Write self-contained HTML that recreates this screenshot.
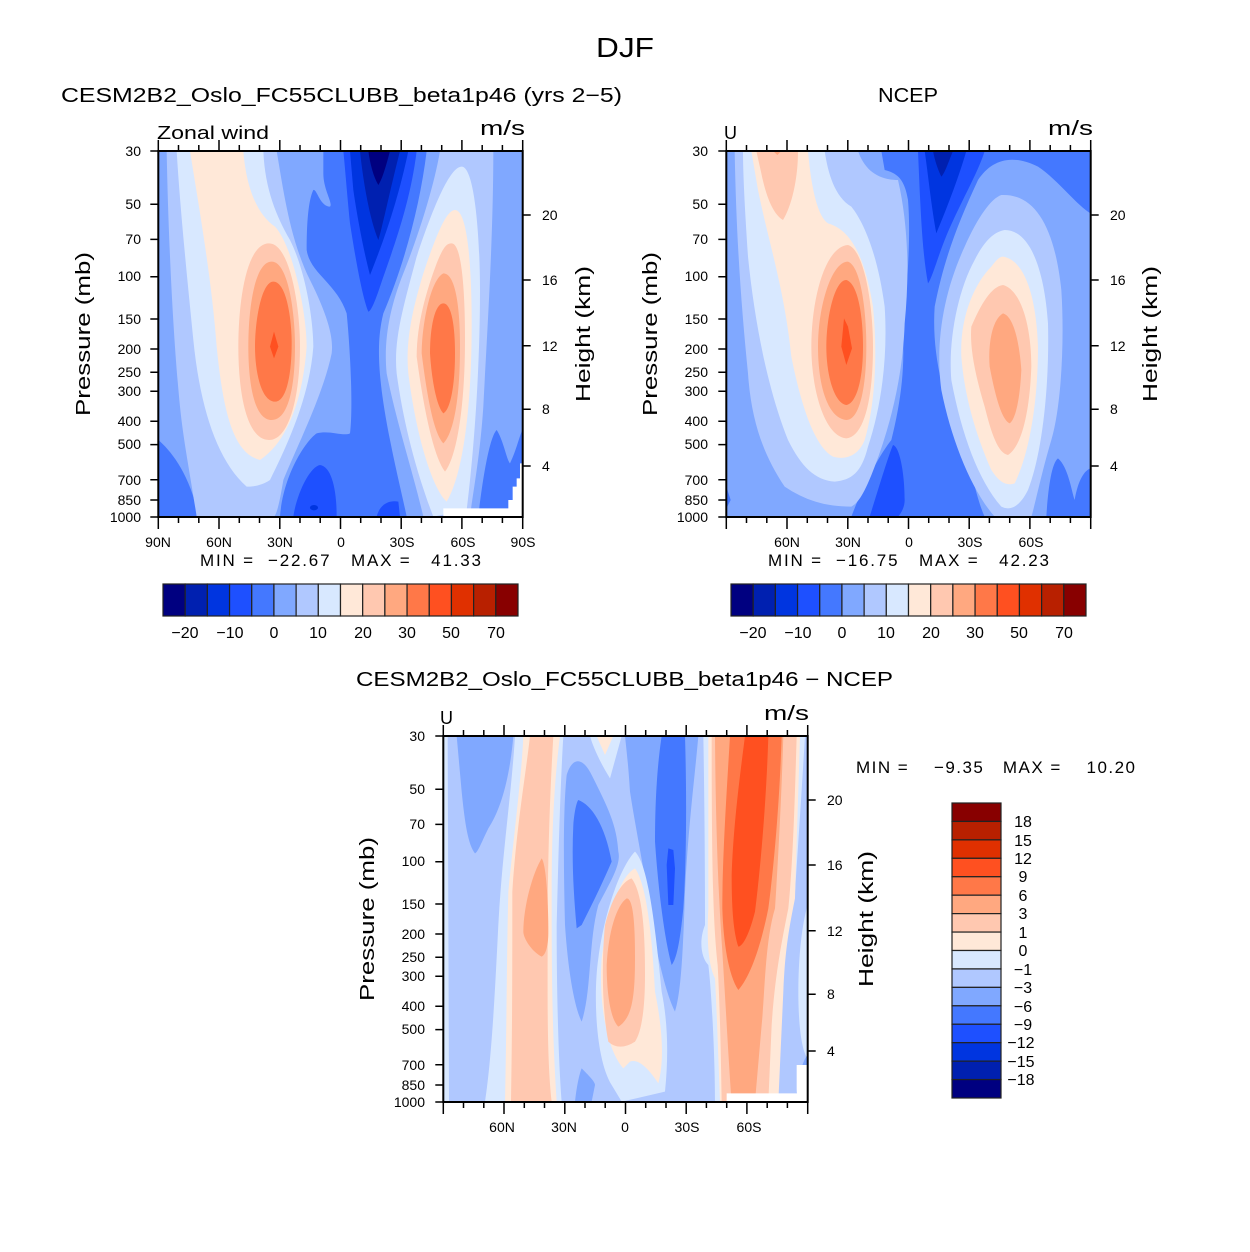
<!DOCTYPE html>
<html><head><meta charset="utf-8"><style>
html,body{margin:0;padding:0;background:#fff}
svg{display:block}
text{font-family:"Liberation Sans",sans-serif;fill:#000}
</style></head><body>
<svg width="1250" height="1252" viewBox="0 0 1250 1252" xmlns="http://www.w3.org/2000/svg">
<defs>
<clipPath id="cz"><rect x="25" y="33" width="1093" height="1097"/></clipPath>
</defs>
<rect width="1250" height="1252" fill="#fff"/>

<!-- PANEL 1 -->
<g transform="translate(150,140) scale(0.33333)" clip-path="url(#cz)">
<rect x="25" y="33" width="1093" height="1097" fill="#80a8ff"/>
<path fill="#4478ff" d="M25,900 C60,930 120,1000 145,1130 L25,1130Z"/>
<path fill="#b0c8ff" d="M50,33 L380,33 C400,150 420,300 480,420 C540,540 550,600 545,640 C520,760 450,900 400,1020 C390,1080 380,1130 370,1130 L140,1130 C120,1000 100,900 90,800 C70,600 55,300 50,33Z"/>
<path fill="#d8e8ff" d="M80,33 L340,33 C345,150 380,230 420,300 C470,400 490,550 490,620 C480,760 420,900 360,1020 C330,1040 300,1040 290,1040 C200,960 150,800 130,600 C110,400 90,200 80,33Z"/>
<path fill="#ffe8d8" d="M120,33 L280,33 C290,160 330,230 375,260 C430,320 470,520 470,620 C460,760 420,900 330,960 C250,940 220,820 200,620 C185,420 150,220 120,33Z"/>
<path fill="#ffc8b0" d="M357,310 C420,310 450,500 450,620 C450,760 420,900 357,900 C290,900 265,760 265,620 C265,480 290,310 357,310Z"/>
<path fill="#ffa880" d="M365,365 C415,365 435,520 435,620 C435,740 415,840 365,840 C315,840 295,740 295,620 C295,500 315,365 365,365Z"/>
<path fill="#ff7848" d="M370,425 C410,425 425,540 425,610 C425,700 410,785 375,785 C335,785 315,700 315,620 C315,540 335,425 370,425Z"/>
<path fill="#ff5020" d="M372,575 L385,620 L372,655 L360,620Z"/>
<path fill="#4478ff" d="M520,33 L830,33 C810,200 760,380 700,520 C680,600 680,700 720,900 C740,1000 760,1080 770,1130 L390,1130 C400,1000 470,900 500,880 C540,870 580,890 600,880 C610,800 600,620 590,520 C560,430 480,400 470,330 C470,250 475,180 490,150 C500,145 510,200 540,200 C550,190 520,150 520,100Z"/>
<path fill="#4478ff" d="M985,1130 C1000,1000 1020,890 1040,870 C1060,900 1070,960 1080,970 C1100,930 1110,880 1118,870 L1118,1130Z"/>
<path fill="#1e50ff" d="M580,33 L800,33 C780,200 720,350 690,440 C670,500 660,515 655,515 C640,480 620,380 600,250 C590,150 585,80 580,33Z"/>
<path fill="#0035e0" d="M600,33 L775,33 C740,200 690,330 660,405 C640,330 620,220 610,150Z"/>
<path fill="#0020b0" d="M630,33 L750,33 C720,150 700,250 685,300 C660,240 640,130 630,33Z"/>
<path fill="#000080" d="M655,33 L720,33 C705,90 695,120 685,135 C670,110 660,70 655,33Z"/>
<path fill="#1e50ff" d="M430,1130 C440,1060 480,980 510,975 C545,980 560,1050 560,1130Z"/>
<path fill="#1e50ff" d="M680,1130 C690,1090 720,1080 745,1085 L750,1130Z"/>
<ellipse fill="#0035e0" cx="492" cy="1103" rx="12" ry="8"/>
<path fill="#b0c8ff" d="M870,33 L1030,33 C1030,300 1010,600 1000,800 C990,950 970,1050 960,1130 L820,1130 C790,1000 740,850 710,700 C700,600 720,500 760,400 C800,300 850,150 870,33Z"/>
<path fill="#d8e8ff" d="M935,80 C975,80 990,300 990,450 C990,700 970,950 950,1110 L850,1130 C800,1000 760,850 740,700 C730,600 760,500 800,350 C850,200 900,80 935,80Z"/>
<path fill="#ffe8d8" d="M915,210 C955,210 965,400 965,550 C965,800 940,1000 890,1085 C850,1050 800,900 775,700 C765,600 790,500 820,400 C860,280 890,210 915,210Z"/>
<path fill="#ffc8b0" d="M905,310 C935,310 945,450 945,600 C945,800 920,950 885,995 C850,950 820,800 800,650 C800,550 830,450 860,370 C880,320 890,310 905,310Z"/>
<path fill="#ffa880" d="M880,400 C920,400 930,520 930,620 C930,780 910,880 880,910 C850,880 830,760 815,640 C815,560 840,420 880,400Z"/>
<path fill="#ff7848" d="M880,490 C905,490 915,560 915,640 C915,740 900,810 880,820 C860,800 845,720 840,640 C840,560 855,490 880,490Z"/>
<path fill="#fff" d="M880,1105 L1075,1105 L1075,1080 L1088,1080 L1088,1040 L1100,1040 L1100,1015 L1110,1015 L1110,970 L1118,970 L1118,1130 L880,1130Z"/>
</g>

<!-- PANEL 2 -->
<g transform="translate(718,140) scale(0.33333)" clip-path="url(#cz)">
<rect x="25" y="33" width="1093" height="1097" fill="#80a8ff"/>
<path fill="#4478ff" d="M490,33 L1118,33 L1118,220 C1080,200 1020,120 960,80 C880,40 820,60 780,120 C720,250 680,350 650,500 C640,650 680,800 750,950 C770,1050 790,1110 800,1130 L400,1130 C430,1050 480,950 520,900 C545,800 560,700 555,600 C565,450 580,300 570,180 C560,120 540,100 500,90Z"/>
<path fill="#4478ff" d="M985,1130 C990,1050 1000,970 1020,955 C1050,980 1060,1050 1070,1080 C1080,1020 1100,990 1118,985 L1118,1130Z"/>
<path fill="#4478ff" d="M25,1040 L38,1080 L25,1105Z"/>
<path fill="#1e50ff" d="M600,33 L800,33 C780,100 720,200 680,300 C660,350 640,420 630,430 C615,350 610,250 605,150Z"/>
<path fill="#0035e0" d="M620,33 L745,33 C720,120 680,220 655,280 C640,200 630,100 620,33Z"/>
<path fill="#0020b0" d="M645,33 L705,33 C690,70 680,100 670,110 C660,90 650,60 645,33Z"/>
<path fill="#1e50ff" d="M455,1130 C480,1050 510,950 525,915 C545,920 560,1000 560,1080 C560,1110 540,1130 540,1130Z"/>
<path fill="#b0c8ff" d="M50,33 L420,33 C440,90 480,120 540,120 C570,250 575,400 560,550 C555,700 520,850 470,980 C440,1060 420,1090 400,1100 C320,1100 260,1080 200,1040 C140,950 100,850 90,700 C70,500 55,300 50,33Z"/>
<path fill="#d8e8ff" d="M75,33 L320,33 C330,100 350,170 400,200 C440,250 480,350 500,500 C510,650 490,800 450,920 C430,1000 400,1020 350,1025 C290,1020 250,980 210,900 C150,750 110,550 90,350 C80,200 75,100 75,33Z"/>
<path fill="#ffe8d8" d="M100,33 L270,33 C280,150 300,230 330,250 C400,270 440,350 465,500 C480,650 470,800 440,900 C420,950 380,960 345,950 C290,920 250,800 220,650 C200,450 150,300 120,150Z"/>
<path fill="#ffc8b0" d="M115,33 L240,33 C240,120 220,200 195,240 C160,220 140,150 130,100Z"/>
<path fill="#ffa880" d="M165,33 L190,33 L178,45Z"/>
<path fill="#ffc8b0" d="M390,315 C440,330 465,500 465,620 C465,770 440,890 385,895 C320,890 280,750 280,620 C280,480 320,320 390,315Z"/>
<path fill="#ffa880" d="M390,365 C430,380 445,520 445,620 C445,740 425,840 385,840 C330,835 300,740 300,620 C300,500 340,365 390,365Z"/>
<path fill="#ff7848" d="M385,420 C420,430 435,530 435,620 C435,720 415,790 385,795 C350,790 325,710 325,620 C325,530 350,420 385,420Z"/>
<path fill="#ff5020" d="M378,535 L390,560 L402,625 L385,675 L370,620Z"/>
<path fill="#b0c8ff" d="M850,165 C950,160 1010,260 1030,450 C1040,600 1030,800 1000,900 C970,1000 950,1100 940,1130 L830,1130 C760,1050 700,900 670,750 C650,600 680,450 740,320 C780,230 820,175 850,165Z"/>
<path fill="#d8e8ff" d="M860,270 C940,270 980,400 990,550 C995,750 970,950 930,1050 C900,1110 870,1110 850,1100 C780,1020 730,880 700,720 C690,600 720,450 770,360 C800,300 830,275 860,270Z"/>
<path fill="#ffe8d8" d="M855,350 C920,360 955,470 960,620 C960,800 930,950 890,1030 C860,1040 840,1020 820,990 C780,900 740,780 730,650 C725,530 770,430 820,380 C835,360 845,350 855,350Z"/>
<path fill="#ffc8b0" d="M855,435 C910,450 940,560 940,680 C935,820 910,920 870,945 C840,940 820,880 800,800 C770,700 755,620 760,560 C790,490 820,440 855,435Z"/>
<path fill="#ffa880" d="M855,520 C890,530 905,620 910,690 C905,790 890,840 875,850 C850,840 830,760 815,680 C810,620 820,540 855,520Z"/>
</g>

<!-- PANEL 3 -->
<g transform="translate(435,725) scale(0.33333)" clip-path="url(#cz)">
<rect x="25" y="33" width="1093" height="1097" fill="#b0c8ff"/>
<path fill="#d8e8ff" d="M25,33 L38,33 L42,1130 L25,1130Z"/>
<path fill="#80a8ff" d="M65,33 L235,33 C225,150 200,250 160,310 C140,350 130,380 120,385 C100,360 90,300 80,200Z"/>
<path fill="#d8e8ff" d="M240,33 L385,33 C375,200 370,400 365,600 C365,800 370,1000 380,1130 L150,1130 C170,1000 180,800 190,600 C200,400 230,200 240,33Z"/>
<path fill="#ffe8d8" d="M265,33 L375,33 C360,150 350,300 350,500 C350,700 350,900 365,1130 L210,1130 C215,900 215,700 220,500 C240,300 260,150 265,33Z"/>
<path fill="#ffc8b0" d="M285,33 L355,33 C345,200 338,400 338,600 C338,800 335,1000 350,1130 L228,1130 C232,900 232,700 232,500 C245,300 272,150 285,33Z"/>
<path fill="#ffa880" d="M320,400 C335,420 340,550 340,620 C340,670 330,690 320,695 C290,680 265,640 265,620 C265,550 290,450 320,400Z"/>
<path fill="#d8e8ff" d="M465,33 L560,33 L525,160 C500,120 475,70 465,33Z"/>
<path fill="#ffe8d8" d="M485,33 L535,33 L510,90Z"/>
<path fill="#80a8ff" d="M395,150 C410,100 440,90 470,150 C520,250 545,300 550,380 C560,420 520,480 490,540 C460,650 470,800 440,890 C420,850 400,750 390,600 C385,400 385,250 395,150Z"/>
<path fill="#4478ff" d="M430,225 C470,240 510,300 530,410 C500,480 470,540 440,600 L425,610 C415,500 410,400 415,300 C418,260 425,230 430,225Z"/>
<path fill="#80a8ff" d="M570,33 L790,33 C780,150 760,300 750,500 C745,650 740,800 720,860 C700,820 680,750 660,650 C640,500 600,300 585,200 C580,120 575,80 570,33Z"/>
<path fill="#4478ff" d="M680,33 L750,33 C755,200 755,400 745,550 C735,650 725,700 710,720 C690,650 670,500 660,350 C660,200 670,100 680,33Z"/>
<path fill="#1e50ff" d="M700,370 L715,375 L720,430 L715,540 L700,540 L695,420Z"/>
<path fill="#80a8ff" d="M420,1130 C425,1080 435,1040 440,1030 C460,1050 480,1070 480,1080 L470,1130Z"/>
<path fill="#d8e8ff" d="M600,380 C640,420 660,600 680,800 C700,900 700,1000 690,1100 L560,1130 L530,1080 C480,1000 475,800 490,700 C510,550 560,420 600,380Z"/>
<path fill="#ffe8d8" d="M600,430 C630,470 650,600 660,800 C680,900 690,1000 670,1075 C640,1030 610,1000 585,1010 L565,1030 C520,980 490,850 500,700 C520,550 560,450 600,430Z"/>
<path fill="#ffc8b0" d="M590,460 C620,500 630,600 630,750 C630,850 620,920 600,950 C570,970 540,970 520,950 C500,850 500,700 510,600 C530,520 560,470 590,460Z"/>
<path fill="#ffa880" d="M575,520 C595,520 600,600 600,700 C600,820 590,880 550,905 C525,880 515,800 515,720 C520,620 545,540 575,520Z"/>
<path fill="#d8e8ff" d="M805,33 L1110,33 C1100,200 1090,350 1080,500 L1050,620 C1030,650 1020,700 1010,800 L990,1130 L840,1130 C840,1000 830,800 820,720 C800,700 790,650 810,600 C810,400 808,200 805,33Z"/>
<path fill="#ffe8d8" d="M820,33 L1095,33 C1090,200 1085,350 1080,520 C1060,620 1050,680 1045,800 L1030,1130 L855,1130 C850,1000 845,850 840,760 C820,720 815,650 820,550Z"/>
<path fill="#ffc8b0" d="M830,33 L1085,33 C1080,200 1075,400 1060,550 C1040,650 1020,750 1010,900 L1000,1130 L860,1130 C858,1000 855,850 848,720 C835,600 830,450 830,33Z"/>
<path fill="#ffa880" d="M840,33 L1045,33 C1040,200 1030,400 1020,550 C990,650 990,800 980,900 L960,1130 L890,1130 C880,1000 870,800 860,650 C850,500 842,300 840,33Z"/>
<path fill="#ff7848" d="M885,33 L1040,33 C1035,200 1020,400 1000,550 C980,650 950,750 910,795 C880,750 865,650 862,550 C862,400 875,200 885,33Z"/>
<path fill="#ff5020" d="M930,33 L1000,33 C995,200 980,400 960,560 C940,640 920,665 910,665 C895,620 890,550 890,450 C895,300 915,150 930,33Z"/>
<path fill="#b0c8ff" d="M1118,380 L1118,1130 L1080,1130 C1085,950 1090,800 1080,700 C1090,600 1100,500 1118,380Z"/>
<path fill="#d8e8ff" d="M1118,540 L1118,1000 C1100,980 1090,900 1090,800 C1090,700 1100,600 1118,540Z"/>
<path fill="#80a8ff" d="M1118,990 L1118,1130 L1080,1130 C1090,1060 1100,1010 1118,990Z"/>
<path fill="#fff" d="M875,1105 L1085,1105 L1085,1020 L1118,1020 L1118,1130 L875,1130Z"/>
</g>

<!-- frames & ticks -->
<g id="ax1" fill="none" stroke="#000" stroke-width="2">
<rect x="158.3" y="151" width="364.4" height="366"/>
<path stroke-width="1.5" d="M158.3,151v-11M178.5,151v-6M198.8,151v-6M219,151v-11M239.3,151v-6M259.5,151v-6M279.8,151v-11M300,151v-6M320.2,151v-6M340.5,151v-11M360.7,151v-6M381,151v-6M401.2,151v-11M421.4,151v-6M441.7,151v-6M461.9,151v-11M482.2,151v-6M502.4,151v-6M522.7,151v-11
M158.3,517v12M178.5,517v6M198.8,517v6M219,517v12M239.3,517v6M259.5,517v6M279.8,517v12M300,517v6M320.2,517v6M340.5,517v12M360.7,517v6M381,517v6M401.2,517v12M421.4,517v6M441.7,517v6M461.9,517v12M482.2,517v6M502.4,517v6M522.7,517v12
M158.3,151h-8M158.3,204.3h-8M158.3,239.4h-8M158.3,276.7h-8M158.3,319h-8M158.3,349h-8M158.3,372.3h-8M158.3,391.3h-8M158.3,421.3h-8M158.3,444.6h-8M158.3,479.8h-8M158.3,500h-8M158.3,517h-8
M522.7,215h8M522.7,280h8M522.7,345.7h8M522.7,409.3h8M522.7,466h8"/>
</g>
<use href="#ax1" x="568" y="0"/>
<use href="#ax1" x="285" y="585"/>

<!-- titles -->
<text x="625" y="57" font-size="28" text-anchor="middle" textLength="58" lengthAdjust="spacingAndGlyphs">DJF</text>
<text x="61" y="102" font-size="20" textLength="561" lengthAdjust="spacingAndGlyphs">CESM2B2_Oslo_FC55CLUBB_beta1p46 (yrs 2−5)</text>
<text x="908" y="102" font-size="20" text-anchor="middle" textLength="60" lengthAdjust="spacingAndGlyphs">NCEP</text>
<text x="356" y="686" font-size="20" textLength="537" lengthAdjust="spacingAndGlyphs">CESM2B2_Oslo_FC55CLUBB_beta1p46 − NCEP</text>

<text x="157" y="139" font-size="18" textLength="112" lengthAdjust="spacingAndGlyphs">Zonal wind</text>
<text x="480" y="135" font-size="20" textLength="45" lengthAdjust="spacingAndGlyphs">m/s</text>
<text x="724" y="139" font-size="18">U</text>
<text x="1048" y="135" font-size="20" textLength="45" lengthAdjust="spacingAndGlyphs">m/s</text>
<text x="440" y="724" font-size="18">U</text>
<text x="764" y="720" font-size="20" textLength="45" lengthAdjust="spacingAndGlyphs">m/s</text>

<!-- axis titles -->
<text transform="translate(90,334) rotate(-90)" font-size="20" text-anchor="middle" textLength="164" lengthAdjust="spacingAndGlyphs">Pressure (mb)</text>
<text transform="translate(657,334) rotate(-90)" font-size="20" text-anchor="middle" textLength="164" lengthAdjust="spacingAndGlyphs">Pressure (mb)</text>
<text transform="translate(374,919) rotate(-90)" font-size="20" text-anchor="middle" textLength="164" lengthAdjust="spacingAndGlyphs">Pressure (mb)</text>
<text transform="translate(590,334) rotate(-90)" font-size="20" text-anchor="middle" textLength="136" lengthAdjust="spacingAndGlyphs">Height (km)</text>
<text transform="translate(1157,334) rotate(-90)" font-size="20" text-anchor="middle" textLength="136" lengthAdjust="spacingAndGlyphs">Height (km)</text>
<text transform="translate(873,919) rotate(-90)" font-size="20" text-anchor="middle" textLength="136" lengthAdjust="spacingAndGlyphs">Height (km)</text>

<!-- y tick labels -->
<g font-size="14" text-anchor="end">
<text x="141" y="156">30</text><text x="141" y="209">50</text><text x="141" y="244">70</text><text x="141" y="281">100</text><text x="141" y="324">150</text><text x="141" y="354">200</text><text x="141" y="377">250</text><text x="141" y="396">300</text><text x="141" y="426">400</text><text x="141" y="449">500</text><text x="141" y="485">700</text><text x="141" y="505">850</text><text x="141" y="522">1000</text>
<text x="708" y="156">30</text><text x="708" y="209">50</text><text x="708" y="244">70</text><text x="708" y="281">100</text><text x="708" y="324">150</text><text x="708" y="354">200</text><text x="708" y="377">250</text><text x="708" y="396">300</text><text x="708" y="426">400</text><text x="708" y="449">500</text><text x="708" y="485">700</text><text x="708" y="505">850</text><text x="708" y="522">1000</text>
<text x="425" y="741">30</text><text x="425" y="794">50</text><text x="425" y="829">70</text><text x="425" y="866">100</text><text x="425" y="909">150</text><text x="425" y="939">200</text><text x="425" y="962">250</text><text x="425" y="981">300</text><text x="425" y="1011">400</text><text x="425" y="1034">500</text><text x="425" y="1070">700</text><text x="425" y="1090">850</text><text x="425" y="1107">1000</text>
</g>
<g font-size="14">
<text x="542" y="220">20</text><text x="542" y="285">16</text><text x="542" y="351">12</text><text x="542" y="414">8</text><text x="542" y="471">4</text>
<text x="1110" y="220">20</text><text x="1110" y="285">16</text><text x="1110" y="351">12</text><text x="1110" y="414">8</text><text x="1110" y="471">4</text>
<text x="827" y="805">20</text><text x="827" y="870">16</text><text x="827" y="936">12</text><text x="827" y="999">8</text><text x="827" y="1056">4</text>
</g>
<!-- x tick labels -->
<g font-size="14" text-anchor="middle">
<text x="158" y="547">90N</text><text x="219" y="547">60N</text><text x="280" y="547">30N</text><text x="341" y="547">0</text><text x="402" y="547">30S</text><text x="463" y="547">60S</text><text x="523" y="547">90S</text>
<text x="787" y="547">60N</text><text x="848" y="547">30N</text><text x="909" y="547">0</text><text x="970" y="547">30S</text><text x="1031" y="547">60S</text>
<text x="502" y="1132">60N</text><text x="564" y="1132">30N</text><text x="625" y="1132">0</text><text x="687" y="1132">30S</text><text x="749" y="1132">60S</text>
</g>
<!-- min/max -->
<text x="200" y="566" font-size="17" textLength="281" lengthAdjust="spacing" xml:space="preserve">MIN =  −22.67   MAX =   41.33</text>
<text x="768" y="566" font-size="17" textLength="281" lengthAdjust="spacing" xml:space="preserve">MIN =  −16.75   MAX =   42.23</text>
<text x="856" y="773" font-size="17" textLength="279" lengthAdjust="spacing" xml:space="preserve">MIN =    −9.35   MAX =    10.20</text>

<!-- colorbar 1 -->
<g id="cb1" stroke="#222" stroke-width="1.2">
<rect x="163" y="584" width="22.19" height="32" fill="#000080"/>
<rect x="185.19" y="584" width="22.19" height="32" fill="#0020b0"/>
<rect x="207.38" y="584" width="22.19" height="32" fill="#0035e0"/>
<rect x="229.56" y="584" width="22.19" height="32" fill="#1e50ff"/>
<rect x="251.75" y="584" width="22.19" height="32" fill="#4478ff"/>
<rect x="273.94" y="584" width="22.19" height="32" fill="#80a8ff"/>
<rect x="296.13" y="584" width="22.19" height="32" fill="#b0c8ff"/>
<rect x="318.31" y="584" width="22.19" height="32" fill="#d8e8ff"/>
<rect x="340.5" y="584" width="22.19" height="32" fill="#ffe8d8"/>
<rect x="362.69" y="584" width="22.19" height="32" fill="#ffc8b0"/>
<rect x="384.88" y="584" width="22.19" height="32" fill="#ffa880"/>
<rect x="407.06" y="584" width="22.19" height="32" fill="#ff7848"/>
<rect x="429.25" y="584" width="22.19" height="32" fill="#ff5020"/>
<rect x="451.44" y="584" width="22.19" height="32" fill="#e03000"/>
<rect x="473.63" y="584" width="22.19" height="32" fill="#b82000"/>
<rect x="495.81" y="584" width="22.19" height="32" fill="#880000"/>
</g>
<use href="#cb1" x="568" y="0"/>
<g font-size="16" text-anchor="middle">
<text x="185" y="638">−20</text><text x="230" y="638">−10</text><text x="274" y="638">0</text><text x="318" y="638">10</text><text x="363" y="638">20</text><text x="407" y="638">30</text><text x="451" y="638">50</text><text x="496" y="638">70</text>
<text x="753" y="638">−20</text><text x="798" y="638">−10</text><text x="842" y="638">0</text><text x="886" y="638">10</text><text x="931" y="638">20</text><text x="975" y="638">30</text><text x="1019" y="638">50</text><text x="1064" y="638">70</text>
</g>

<!-- colorbar 3 vertical -->
<g stroke="#222" stroke-width="1.2">
<rect x="952" y="803" width="49" height="18.44" fill="#880000"/>
<rect x="952" y="821.44" width="49" height="18.44" fill="#b82000"/>
<rect x="952" y="839.88" width="49" height="18.44" fill="#e03000"/>
<rect x="952" y="858.31" width="49" height="18.44" fill="#ff5020"/>
<rect x="952" y="876.75" width="49" height="18.44" fill="#ff7848"/>
<rect x="952" y="895.19" width="49" height="18.44" fill="#ffa880"/>
<rect x="952" y="913.63" width="49" height="18.44" fill="#ffc8b0"/>
<rect x="952" y="932.06" width="49" height="18.44" fill="#ffe8d8"/>
<rect x="952" y="950.5" width="49" height="18.44" fill="#d8e8ff"/>
<rect x="952" y="968.94" width="49" height="18.44" fill="#b0c8ff"/>
<rect x="952" y="987.38" width="49" height="18.44" fill="#80a8ff"/>
<rect x="952" y="1005.81" width="49" height="18.44" fill="#4478ff"/>
<rect x="952" y="1024.25" width="49" height="18.44" fill="#1e50ff"/>
<rect x="952" y="1042.69" width="49" height="18.44" fill="#0035e0"/>
<rect x="952" y="1061.13" width="49" height="18.44" fill="#0020b0"/>
<rect x="952" y="1079.56" width="49" height="18.44" fill="#000080"/>
</g>
<g font-size="16" text-anchor="middle">
<text x="1023" y="827">18</text><text x="1023" y="846">15</text><text x="1023" y="864">12</text><text x="1023" y="882">9</text><text x="1023" y="901">6</text><text x="1023" y="919">3</text><text x="1023" y="938">1</text><text x="1023" y="956">0</text><text x="1023" y="975">−1</text><text x="1023" y="993">−3</text><text x="1023" y="1012">−6</text><text x="1023" y="1030">−9</text><text x="1021" y="1048">−12</text><text x="1021" y="1067">−15</text><text x="1021" y="1085">−18</text>
</g>
</svg>
</body></html>
